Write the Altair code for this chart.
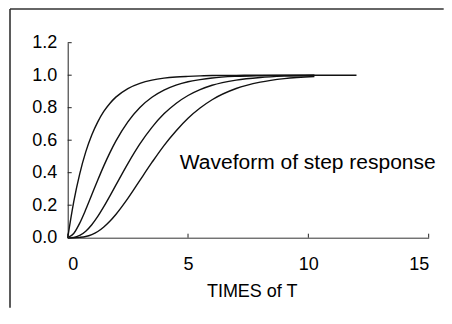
import altair as alt
import pandas as pd

# time axis (multiples of T)
t_vals = [0, 0.25, 0.5, 0.75, 1, 1.25, 1.5, 1.75, 2, 2.5, 3, 3.5, 4, 4.5, 5, 5.5, 6, 7, 8, 9, 10.25]

# four step-response curves
resp1 = [0, 0.221, 0.393, 0.528, 0.632, 0.713, 0.777, 0.826, 0.865, 0.918, 0.950, 0.970, 0.982, 0.989, 0.993, 0.996, 0.998, 0.999, 1.0, 1.0, 1.0]
resp2 = [0, 0.026, 0.090, 0.173, 0.264, 0.355, 0.442, 0.522, 0.594, 0.713, 0.801, 0.864, 0.908, 0.939, 0.960, 0.973, 0.983, 0.993, 0.997, 0.999, 1.0]
resp3 = [0, 0.002, 0.014, 0.040, 0.080, 0.131, 0.191, 0.256, 0.323, 0.456, 0.577, 0.679, 0.762, 0.826, 0.875, 0.911, 0.938, 0.970, 0.986, 0.994, 0.998]
resp4 = [0, 0.000, 0.002, 0.007, 0.019, 0.038, 0.066, 0.101, 0.143, 0.242, 0.353, 0.463, 0.567, 0.657, 0.735, 0.798, 0.849, 0.918, 0.957, 0.979, 0.992]
# first curve continues flat to t = 12
resp1_tail_t = [12]
resp1_tail_v = [1.0]

y_ticks = [0, 0.2, 0.4, 0.6, 0.8, 1.0, 1.2]
x_ticks = [0, 5, 10, 15]

note_text = ["Waveform of step response"]
note_t = [4.66]
note_v = [0.42]

rows = []
for name, vals in [("n1", resp1), ("n2", resp2), ("n3", resp3), ("n4", resp4)]:
    for t, v in zip(t_vals, vals):
        rows.append({"series": name, "t": t, "v": v})
for t, v in zip(resp1_tail_t, resp1_tail_v):
    rows.append({"series": "n1", "t": t, "v": v})
df = pd.DataFrame(rows)

FONT = "Liberation Sans"
W, H = 361, 195
PAD_L, PAD_T, PAD_R, PAD_B = 59.7, 34.7, 15, 70

xscale = alt.Scale(domain=[0, 15], nice=False, zero=False)
yscale = alt.Scale(domain=[0, 1.2], nice=False)

xaxis = alt.Axis(values=x_ticks, ticks=False, tickSize=0, grid=False,
                 domainColor="#333333", domainWidth=1,
                 labelFont=FONT, labelFontSize=18, labelColor="#000000",
                 labelPadding=18,
                 title="TIMES of T", titleFont=FONT, titleFontSize=18,
                 titleFontWeight="normal", titleColor="#000000",
                 titleX=184, titleY=58.5, titleBaseline="alphabetic",
                 titleAlign="center", titleAnchor="start")
yaxis = alt.Axis(values=y_ticks, format=".1f", ticks=False, tickSize=0, grid=False,
                 domainColor="#222222", domainWidth=1,
                 labelFont=FONT, labelFontSize=18, labelColor="#000000",
                 labelPadding=11, title=None)

lines = alt.Chart(df).mark_line(color="#111111", strokeWidth=1.4, interpolate="monotone").encode(
    x=alt.X("t:Q", scale=xscale, axis=xaxis),
    y=alt.Y("v:Q", scale=yscale, axis=yaxis),
    detail="series:N",
)

ytick_df = pd.DataFrame({"v": y_ticks})
yticks = alt.Chart(ytick_df).mark_rule(color="#222222", strokeWidth=1).encode(
    y=alt.Y("v:Q", scale=yscale, axis=yaxis),
    x=alt.value(0), x2=alt.value(4),
)

xtick_df = pd.DataFrame({"t": x_ticks})
xticks = alt.Chart(xtick_df).mark_rule(color="#222222", strokeWidth=1).encode(
    x=alt.X("t:Q", scale=xscale, axis=xaxis),
    y=alt.value(H), y2=alt.value(H - 4),
)

note_df = pd.DataFrame({"text": note_text, "t": note_t, "v": note_v})
note = alt.Chart(note_df).mark_text(font=FONT, fontSize=21, align="left",
                                    baseline="alphabetic", color="#000000").encode(
    x=alt.X("t:Q", scale=xscale, axis=xaxis),
    y=alt.Y("v:Q", scale=yscale, axis=yaxis),
    text="text:N",
)

frame_top = alt.Chart(alt.Data(values=[{}])).mark_rule(color="#333333", strokeWidth=1.6).encode(
    x=alt.value(-57.7), x2=alt.value(W + PAD_R), y=alt.value(-33.7),
)
frame_left = alt.Chart(alt.Data(values=[{}])).mark_rule(color="#333333", strokeWidth=1.6).encode(
    x=alt.value(-57.7), y=alt.value(-33.7), y2=alt.value(H + PAD_B),
)

chart = alt.layer(frame_top, frame_left, lines, yticks, xticks, note).properties(
    width=W, height=H,
    autosize="none",
    padding={"left": PAD_L, "top": PAD_T, "right": PAD_R, "bottom": PAD_B},
    background="white",
).configure_view(stroke=None)

chart.save("out.html", embed_options={"renderer": "svg", "actions": False})
